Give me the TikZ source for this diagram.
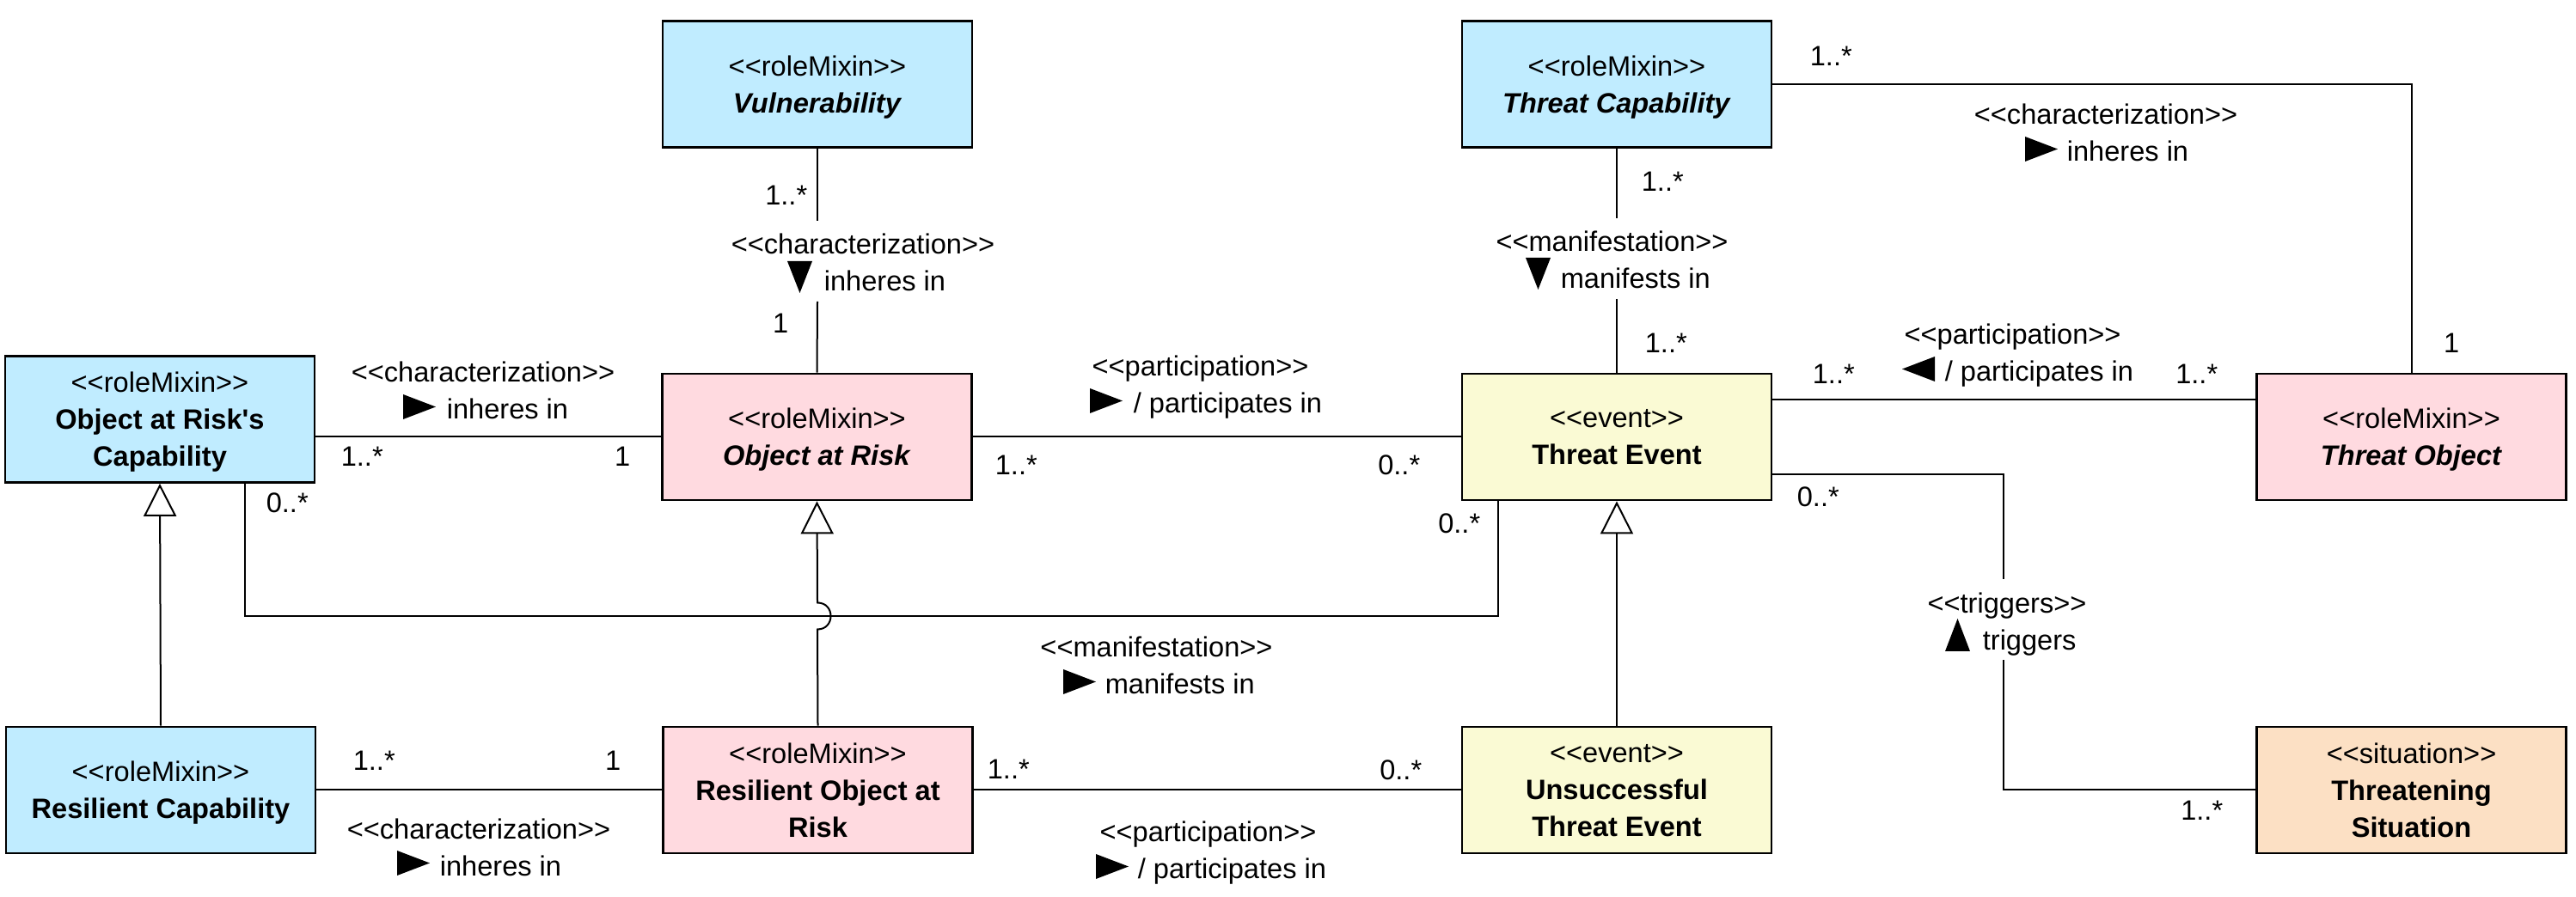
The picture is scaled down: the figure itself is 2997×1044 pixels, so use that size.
\documentclass[tikz,border=0pt]{standalone}
\usepackage{fontspec}
\setmainfont{Liberation Sans}[Ligatures=TeXOff]
\usetikzlibrary{arrows.meta}
\definecolor{cblue}{RGB}{192,236,255}
\definecolor{cpink}{RGB}{255,218,224}
\definecolor{cyell}{RGB}{250,250,212}
\definecolor{corng}{RGB}{252,224,196}
\newcommand\fs{\fontsize{8.15pt}{10.75pt}\selectfont}
\begin{document}
\begin{tikzpicture}[x=0.25pt,y=-0.25pt,
  box/.style={draw, line width=0.7pt, minimum width=90pt, minimum height=36.75pt,
    inner sep=0pt, align=center, font=\fs, text depth=0pt},
  assoc/.style={line width=0.5pt},
  gen/.style={line width=0.5pt, -{Triangle[open,length=9.5pt,width=9.5pt,fill=white]}},
  lbl/.style={font=\fs, inner sep=0pt},
  dirtri/.style={fill=black}]
\fill[white] (0,0) rectangle (2997,1044);
\useasboundingbox (0,0) rectangle (2997,1044);

% ---- boxes
\node[box,fill=cblue] (vul)  at (951,98)    {<<roleMixin>>\\\textbf{\textit{Vulnerability}}};
\node[box,fill=cblue] (tcap) at (1881,98)   {<<roleMixin>>\\\textbf{\textit{Threat Capability}}};
\node[box,fill=cblue] (oarc) at (186,488)   {<<roleMixin>>\\\textbf{Object at Risk's}\\\textbf{Capability}};
\node[box,fill=cpink] (oar)  at (950.5,508.5) {<<roleMixin>>\\\textbf{\textit{Object at Risk}}};
\node[box,fill=cyell] (te)   at (1881,508.5) {<<event>>\\\textbf{Threat Event}};
\node[box,fill=cpink] (to)   at (2805.5,508.5) {<<roleMixin>>\\\textbf{\textit{Threat Object}}};
\node[box,fill=cblue] (rc)   at (187,919.5) {<<roleMixin>>\\\textbf{Resilient Capability}};
\node[box,fill=cpink] (roar) at (951.5,919.5) {<<roleMixin>>\\\textbf{Resilient Object at}\\\textbf{Risk}};
\node[box,fill=cyell] (ute)  at (1881,919.5) {<<event>>\\\textbf{Unsuccessful}\\\textbf{Threat Event}};
\node[box,fill=corng] (ts)   at (2805.5,919.5) {<<situation>>\\\textbf{Threatening}\\\textbf{Situation}};

% ---- free ends of broken connectors
\coordinate (va) at (951,257);
\coordinate (vb) at (951,351);
\coordinate (ca) at (1881,254);
\coordinate (cb) at (1881,348);
\coordinate (tra) at (2331,674);
\coordinate (trb) at (2331,768);
\coordinate (mf) at (1743,717);
\coordinate (hopa) at (951,732.5);
\coordinate (hopb) at (951,701.5);

% ---- connectors
\draw[assoc] (vul.south) -- (va);
\draw[assoc] (vb) -- (oar.north);
\draw[assoc] (oar.west) -- (oar.west -| oarc.east);
\draw[assoc] (oar.east) -- (te.west);
\draw[assoc] (tcap.south) -- (ca);
\draw[assoc] (cb) -- (te.north);
\draw[assoc] (tcap.east) -- (tcap.east -| to.north) -- (to.north);
\draw[assoc] ([yshift=10.875pt]te.east) -- ([yshift=10.875pt]te.east -| to.west);
\draw[assoc] ([yshift=-10.875pt]te.east) -| (tra);
\draw[assoc] (trb) |- (ts.west);
\draw[assoc] ([xshift=24.75pt]oarc.south) |- (mf) -- (mf |- te.south);
\draw[assoc] (roar.west) -- (roar.west -| rc.east);
\draw[assoc] (roar.east) -- (ute.west);
\draw[gen] (rc.north) -- (oarc.south);
\draw[gen] (ute.north) -- (te.south);
\draw[gen] (roar.north) -- (hopa) .. controls (971.7,732.5) and (971.7,701.5) .. (hopb) -- (oar.south);

% ---- multiplicities
\node[lbl,anchor=base east] (m1)  at (940,239)  {1..*};
\node[lbl,anchor=base east] (m2)  at (918,388)  {1};
\node[lbl,anchor=base west] (m3)  at (396,543)  {1..*};
\node[lbl,anchor=base east] (m4)  at (734,543)  {1};
\node[lbl,anchor=base west] (m5)  at (309,597)  {0..*};
\node[lbl,anchor=base west] (m6)  at (1157,553) {1..*};
\node[lbl,anchor=base east] (m7)  at (1653,553) {0..*};
\node[lbl,anchor=base east] (m8)  at (1723,621) {0..*};
\node[lbl,anchor=base west] (m9)  at (1909,223) {1..*};
\node[lbl,anchor=base west] (m10) at (1913,411) {1..*};
\node[lbl,anchor=base west] (m11) at (2105,77)  {1..*};
\node[lbl,anchor=base west] (m12) at (2108,447) {1..*};
\node[lbl,anchor=base east] (m13) at (2581,447) {1..*};
\node[lbl,anchor=base east] (m14) at (2862,411) {1};
\node[lbl,anchor=base west] (m15) at (2090,590) {0..*};
\node[lbl,anchor=base east] (m16) at (2587,955) {1..*};
\node[lbl,anchor=base west] (m17) at (410,897)  {1..*};
\node[lbl,anchor=base east] (m18) at (723,897)  {1};
\node[lbl,anchor=base west] (m19) at (1148,907) {1..*};
\node[lbl,anchor=base east] (m20) at (1655,908) {0..*};

% ---- association labels
% OaRC - OaR
\node[lbl,anchor=base] (s1) at (562,445) {<<characterization>>};
\node[lbl,anchor=base west] (t1) at (519,488) {inheres in};
\fill[dirtri] (469,488) -- (469,459) -- (507,473.5) -- cycle;
% Vulnerability - OaR
\node[lbl,anchor=base] (s2) at (1004,296) {<<characterization>>};
\node[lbl,anchor=base west] (t2) at (958,339) {inheres in};
\fill[dirtri] (916,304) -- (945,304) -- (930.5,341) -- cycle;
% OaR - TE
\node[lbl,anchor=base] (s3) at (1396.5,438) {<<participation>>};
\node[lbl,anchor=base west] (t3) at (1318,481) {/ participates in};
\fill[dirtri] (1268,481) -- (1268,452) -- (1306,466.5) -- cycle;
% OaRC - TE manifestation
\node[lbl,anchor=base] (s4) at (1345.5,765) {<<manifestation>>};
\node[lbl,anchor=base west] (t4) at (1285,808) {manifests in};
\fill[dirtri] (1237,808) -- (1237,779) -- (1275,793.5) -- cycle;
% ROaR - UTE
\node[lbl,anchor=base] (s5) at (1405.5,980) {<<participation>>};
\node[lbl,anchor=base west] (t5) at (1323,1023) {/ participates in};
\fill[dirtri] (1275,1023) -- (1275,994) -- (1313,1008.5) -- cycle;
% RC - ROaR
\node[lbl,anchor=base] (s6) at (557,977) {<<characterization>>};
\node[lbl,anchor=base west] (t6) at (511,1020) {inheres in};
\fill[dirtri] (462,1019) -- (462,990) -- (500,1004.5) -- cycle;
% TCap - TE
\node[lbl,anchor=base] (s7) at (1875.5,293) {<<manifestation>>};
\node[lbl,anchor=base west] (t7) at (1815,336) {manifests in};
\fill[dirtri] (1775,300) -- (1804,300) -- (1789.5,337) -- cycle;
% TCap - TO
\node[lbl,anchor=base] (s8) at (2450,145) {<<characterization>>};
\node[lbl,anchor=base west] (t8) at (2404,188) {inheres in};
\fill[dirtri] (2356,188) -- (2356,159) -- (2394,173.5) -- cycle;
% TE - TO
\node[lbl,anchor=base] (s9) at (2341.5,401) {<<participation>>};
\node[lbl,anchor=base west] (t9) at (2262,444) {/ participates in};
\fill[dirtri] (2251,444) -- (2251,415) -- (2213,429.5) -- cycle;
% triggers
\node[lbl,anchor=base] (s10) at (2335,714) {<<triggers>>};
\node[lbl,anchor=base west] (t10) at (2306,757) {triggers};
\fill[dirtri] (2263,758) -- (2292,758) -- (2277.5,720) -- cycle;
\end{tikzpicture}
\end{document}
